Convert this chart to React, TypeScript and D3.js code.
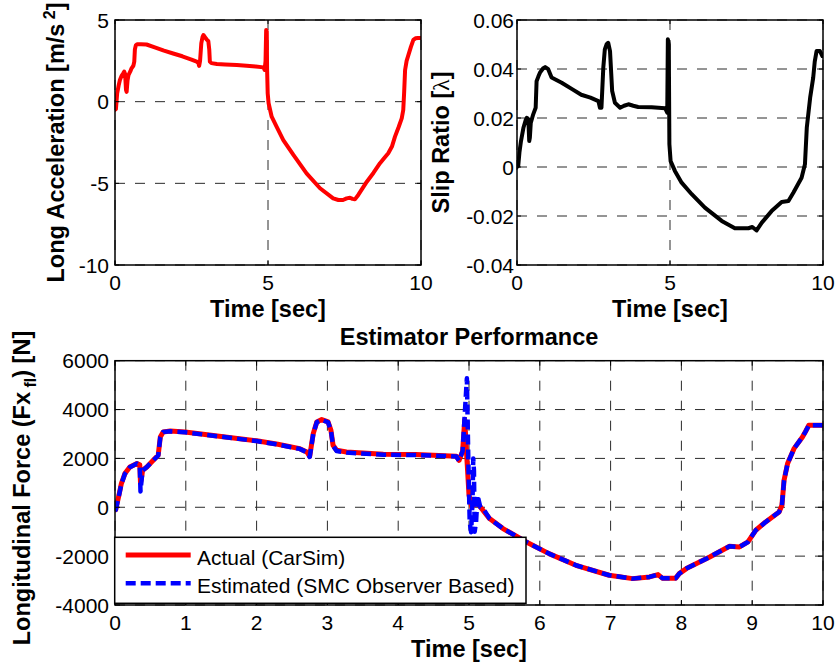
import React from 'react';
import * as d3 from 'd3';

// ---------- DATA ----------
const accelData: [number, number][] = [
  [0, -0.5], [0.03, -0.45], [0.07, 0.5], [0.12, 1.0], [0.16, 1.33], [0.22, 1.6], [0.27, 1.74],
  [0.3, 1.84], [0.33, 1.7], [0.36, 0.72], [0.38, 0.6], [0.41, 1.3], [0.44, 1.63], [0.5, 1.85],
  [0.54, 2.04], [0.6, 2.2], [0.63, 2.45], [0.65, 3.2], [0.68, 3.45], [0.72, 3.51], [0.85, 3.51],
  [1.03, 3.5], [1.3, 3.32], [1.6, 3.12], [1.9, 2.95], [2.2, 2.78], [2.5, 2.58], [2.67, 2.45],
  [2.72, 2.38], [2.75, 2.19], [2.78, 2.5], [2.82, 3.57], [2.86, 3.95], [2.89, 4.08], [2.94, 3.95],
  [2.99, 3.82], [3.05, 3.7], [3.08, 3.2], [3.1, 2.45], [3.15, 2.36], [3.33, 2.31], [3.6, 2.28],
  [3.98, 2.25], [4.3, 2.2], [4.6, 2.15], [4.85, 2.1], [4.89, 1.94], [4.92, 2.5], [4.94, 4.39],
  [4.96, 4.3], [4.97, 2.0], [4.99, 0.51], [5.02, -0.1], [5.12, -0.92], [5.28, -1.53], [5.5, -2.35],
  [5.83, -3.26], [6.26, -4.39], [6.7, -5.3], [7.13, -5.92], [7.3, -6.02], [7.45, -6.02], [7.57, -5.92],
  [7.68, -5.88], [7.76, -5.95], [7.84, -5.98], [7.95, -5.71], [8.23, -4.9], [8.45, -4.35], [8.66, -3.77],
  [8.8, -3.45], [8.93, -3.16], [9.05, -2.75], [9.15, -2.14], [9.27, -1.55], [9.37, -1.02], [9.42, -0.51],
  [9.45, 0.6], [9.48, 1.94], [9.53, 2.5], [9.59, 2.86], [9.67, 3.35], [9.75, 3.78], [9.82, 3.88],
  [9.9, 3.9], [10, 3.9],
];

const slipData: [number, number][] = [
  [0, 0], [0.04, 0.0004], [0.08, 0.006], [0.13, 0.0106], [0.21, 0.016], [0.28, 0.019], [0.32, 0.0201],
  [0.37, 0.0195], [0.4, 0.0106], [0.42, 0.012], [0.45, 0.018], [0.53, 0.0215], [0.61, 0.0242],
  [0.64, 0.035], [0.7, 0.037], [0.75, 0.0385], [0.85, 0.0402], [0.92, 0.0408], [1.02, 0.0399],
  [1.13, 0.0365], [1.46, 0.0344], [1.8, 0.0318], [2.1, 0.0295], [2.4, 0.0283], [2.66, 0.0269],
  [2.71, 0.0242], [2.76, 0.0242], [2.82, 0.0405], [2.87, 0.048], [2.93, 0.0501], [2.98, 0.0507],
  [3.04, 0.0473], [3.08, 0.038], [3.11, 0.031], [3.2, 0.0262], [3.37, 0.0242], [3.5, 0.025],
  [3.64, 0.0256], [3.8, 0.025], [3.96, 0.0245], [4.4, 0.0244], [4.84, 0.024], [4.91, 0.0222],
  [4.93, 0.0521], [4.96, 0.05], [4.98, 0.0093], [5.02, 0.0024], [5.16, -0.0016], [5.38, -0.0064],
  [5.71, -0.0111], [6.14, -0.0166], [6.69, -0.022], [7.12, -0.025], [7.56, -0.025], [7.69, -0.0245],
  [7.83, -0.0259], [8.0, -0.0227], [8.32, -0.018], [8.65, -0.0143], [8.87, -0.0139], [9.03, -0.0105],
  [9.3, -0.0044], [9.41, 0.0011], [9.47, 0.016], [9.58, 0.0283], [9.68, 0.0365], [9.73, 0.043],
  [9.79, 0.0473], [9.9, 0.0473], [9.98, 0.0453],
];

const forceActual: [number, number][] = [
  [0, -50], [0.01, -95], [0.05, 423], [0.09, 970], [0.14, 1380], [0.21, 1650], [0.31, 1790],
  [0.35, 1740], [0.36, 1000], [0.38, 1300], [0.39, 1515], [0.45, 1650], [0.54, 1924], [0.61, 2129],
  [0.64, 2877], [0.68, 3082], [0.78, 3123], [0.99, 3082], [1.5, 2900], [2.0, 2720], [2.3, 2580],
  [2.61, 2400], [2.71, 2264], [2.75, 2088], [2.8, 3015], [2.85, 3493], [2.92, 3590], [3.01, 3493],
  [3.05, 3152], [3.08, 2538], [3.13, 2333], [3.27, 2264], [3.79, 2170], [4.25, 2157], [4.82, 2088],
  [4.86, 1924], [4.91, 2300], [4.94, 3600], [4.96, 2500], [4.98, 1515], [5.0, 500], [5.04, 0],
  [5.1, 200], [5.15, 50], [5.29, -464], [5.48, -873], [5.81, -1419], [6.13, -1897], [6.51, -2374],
  [6.98, -2783], [7.31, -2920], [7.55, -2852], [7.67, -2756], [7.73, -2900], [7.92, -2900],
  [7.97, -2715], [8.07, -2510], [8.4, -2033], [8.68, -1596], [8.82, -1623], [8.94, -1419],
  [9.05, -941], [9.19, -600], [9.38, -191], [9.42, 82], [9.45, 1105], [9.5, 1790], [9.59, 2400],
  [9.71, 2877], [9.75, 3082], [9.8, 3357], [10, 3357],
];

const forceEstimated: [number, number][] = [
  [0, -120], [0.01, -110], [0.05, 400], [0.09, 950], [0.14, 1370], [0.21, 1640], [0.31, 1790],
  [0.35, 1720], [0.36, 650], [0.38, 1250], [0.39, 1500], [0.45, 1650], [0.54, 1920], [0.61, 2120],
  [0.64, 2870], [0.68, 3080], [0.78, 3110], [0.99, 3070], [1.5, 2890], [2.0, 2710], [2.3, 2570],
  [2.61, 2390], [2.71, 2250], [2.75, 2060], [2.8, 3000], [2.85, 3480], [2.92, 3580], [3.01, 3480],
  [3.05, 3140], [3.08, 2520], [3.13, 2300], [3.27, 2240], [3.79, 2150], [4.25, 2140], [4.82, 2080],
  [4.86, 1900], [4.91, 2300], [4.93, 3300], [4.97, 5280], [4.99, 2000], [5.01, -600], [5.03, -1023],
  [5.05, 300], [5.06, 2000], [5.07, 1500], [5.08, -1000], [5.1, -600], [5.12, 500], [5.16, 0],
  [5.2, -50], [5.29, -464], [5.48, -873], [5.81, -1419], [6.13, -1897], [6.51, -2374],
  [6.98, -2783], [7.31, -2920], [7.55, -2852], [7.67, -2756], [7.73, -2900], [7.92, -2900],
  [7.97, -2715], [8.07, -2510], [8.4, -2033], [8.68, -1596], [8.82, -1623], [8.94, -1419],
  [9.05, -941], [9.19, -600], [9.38, -191], [9.42, 82], [9.45, 1105], [9.5, 1790], [9.59, 2400],
  [9.71, 2877], [9.75, 3082], [9.8, 3357], [10, 3357],
];

const accelXTicks = [0, 5, 10];
const accelYTicks = [-10, -5, 0, 5];
const slipXTicks = [0, 5, 10];
const slipYTicks = [-0.04, -0.02, 0, 0.02, 0.04, 0.06];
const slipYLabels = ['-0.04', '-0.02', '0', '0.02', '0.04', '0.06'];
const forceXTicks = [0, 1, 2, 3, 4, 5, 6, 7, 8, 9, 10];
const forceYTicks = [-4000, -2000, 0, 2000, 4000, 6000];

const legendLabels = ['Actual (CarSim)', 'Estimated (SMC Observer Based)'];
const titleText = 'Estimator Performance';
const xLabelText = 'Time [sec]';

// ---------- LAYOUT ----------
const FONT = '"Liberation Sans", Arial, Helvetica, sans-serif';
const TICK_FS = 21;
const LABEL_FS = 23.5;

type Box = { l: number; r: number; t: number; b: number };

const boxA: Box = { l: 115, r: 421, t: 20, b: 265 };
const boxB: Box = { l: 517, r: 823, t: 20, b: 265 };
const boxC: Box = { l: 115, r: 823, t: 360.7, b: 605 };

function Frame(props: {
  box: Box;
  x: d3.ScaleLinear<number, number>;
  y: d3.ScaleLinear<number, number>;
  xTicks: number[];
  yTicks: number[];
  yLabels?: string[];
  tickLen: number;
  yGap: number;
  layer: 'grid' | 'box';
}) {
  const { box, x, y, xTicks, yTicks, yLabels, tickLen, yGap, layer } = props;
  if (layer === 'grid') {
    return (
      <g>
        {xTicks.map((t) => (
          <line key={'gx' + t} x1={x(t)} x2={x(t)} y1={box.t} y2={box.b}
            stroke="#2a2a2a" strokeWidth={1} strokeDasharray="10,10" />
        ))}
        {yTicks.map((t) => (
          <line key={'gy' + t} x1={box.l} x2={box.r} y1={y(t)} y2={y(t)}
            stroke="#2a2a2a" strokeWidth={1} strokeDasharray="10,10" />
        ))}
      </g>
    );
  }
  return (
    <g>
      {xTicks.map((t) => (
        <g key={'tx' + t}>
          <line x1={x(t)} x2={x(t)} y1={box.b} y2={box.b - tickLen} stroke="#000" strokeWidth={1} />
          <line x1={x(t)} x2={x(t)} y1={box.t} y2={box.t + tickLen} stroke="#000" strokeWidth={1} />
          <text x={x(t)} y={box.b + 25} textAnchor="middle" fontFamily={FONT} fontSize={TICK_FS} fill="#000">
            {String(t)}
          </text>
        </g>
      ))}
      {yTicks.map((t, i) => (
        <g key={'ty' + t}>
          <line x1={box.l} x2={box.l + tickLen} y1={y(t)} y2={y(t)} stroke="#000" strokeWidth={1} />
          <line x1={box.r} x2={box.r - tickLen} y1={y(t)} y2={y(t)} stroke="#000" strokeWidth={1} />
          <text x={box.l - yGap} y={y(t) + 7.5} textAnchor="end" fontFamily={FONT} fontSize={TICK_FS} fill="#000">
            {yLabels ? yLabels[i] : String(t)}
          </text>
        </g>
      ))}
      <rect x={box.l} y={box.t} width={box.r - box.l} height={box.b - box.t}
        fill="none" stroke="#000" strokeWidth={1.5} />
    </g>
  );
}

export default function App() {
  const xA = d3.scaleLinear().domain([0, 10]).range([boxA.l, boxA.r]);
  const yA = d3.scaleLinear().domain([-10, 5]).range([boxA.b, boxA.t]);
  const xB = d3.scaleLinear().domain([0, 10]).range([boxB.l, boxB.r]);
  const yB = d3.scaleLinear().domain([-0.04, 0.06]).range([boxB.b, boxB.t]);
  const xC = d3.scaleLinear().domain([0, 10]).range([boxC.l, boxC.r]);
  const yC = d3.scaleLinear().domain([-4000, 6000]).range([boxC.b, boxC.t]);

  const lineA = d3.line<[number, number]>().x((d) => xA(d[0])).y((d) => yA(d[1]));
  const lineB = d3.line<[number, number]>().x((d) => xB(d[0])).y((d) => yB(d[1]));
  const lineC = d3.line<[number, number]>().x((d) => xC(d[0])).y((d) => yC(d[1]));

  const legX = 114.7, legY = 537.3, legW = 411.3, legH = 66;

  return (
    <svg width={836} height={666} viewBox="0 0 836 666"
      style={{ position: 'absolute', left: 0, top: 0, background: '#fff' }}>
      <rect x={0} y={0} width={836} height={666} fill="#fff" />
      <defs>
        <clipPath id="clipA"><rect x={boxA.l} y={boxA.t} width={boxA.r - boxA.l} height={boxA.b - boxA.t} /></clipPath>
        <clipPath id="clipB"><rect x={boxB.l} y={boxB.t} width={boxB.r - boxB.l} height={boxB.b - boxB.t} /></clipPath>
        <clipPath id="clipC"><rect x={boxC.l} y={boxC.t} width={boxC.r - boxC.l} height={boxC.b - boxC.t} /></clipPath>
      </defs>

      {/* Panel A: Long acceleration */}
      <Frame box={boxA} x={xA} y={yA} xTicks={accelXTicks} yTicks={accelYTicks} tickLen={4} yGap={6} layer="grid" />
      <path d={lineA(accelData) || ''} fill="none" stroke="#ff0000" strokeWidth={4}
        strokeLinejoin="round" strokeLinecap="round" clipPath="url(#clipA)" />
      <Frame box={boxA} x={xA} y={yA} xTicks={accelXTicks} yTicks={accelYTicks} tickLen={4} yGap={6} layer="box" />
      <text transform={`translate(63.8, ${(boxA.t + boxA.b) / 2}) rotate(-90)`} textAnchor="middle"
        fontFamily={FONT} fontSize={LABEL_FS} fontWeight="bold" fill="#000">
        <tspan>Long Acceleration [m/s</tspan>
        <tspan dy={-9} fontSize={16}> 2</tspan>
        <tspan dy={9}>]</tspan>
      </text>
      <text x={(boxA.l + boxA.r) / 2} y={316.5} textAnchor="middle" fontFamily={FONT}
        fontSize={LABEL_FS} fontWeight="bold" fill="#000">{xLabelText}</text>

      {/* Panel B: Slip ratio */}
      <Frame box={boxB} x={xB} y={yB} xTicks={slipXTicks} yTicks={slipYTicks} yLabels={slipYLabels} tickLen={4} yGap={3} layer="grid" />
      <path d={lineB(slipData) || ''} fill="none" stroke="#000" strokeWidth={4}
        strokeLinejoin="round" strokeLinecap="round" clipPath="url(#clipB)" />
      <Frame box={boxB} x={xB} y={yB} xTicks={slipXTicks} yTicks={slipYTicks} yLabels={slipYLabels} tickLen={4} yGap={3} layer="box" />
      <text transform={`translate(448.5, ${(boxB.t + boxB.b) / 2}) rotate(-90)`} textAnchor="middle"
        fontFamily={FONT} fontSize={LABEL_FS} fontWeight="bold" fill="#000">
        <tspan>Slip Ratio [</tspan>
        <tspan fontWeight="normal" fontFamily='"Liberation Serif", "DejaVu Serif", serif'>λ</tspan>
        <tspan>]</tspan>
      </text>
      <text x={(boxB.l + boxB.r) / 2} y={316.5} textAnchor="middle" fontFamily={FONT}
        fontSize={LABEL_FS} fontWeight="bold" fill="#000">{xLabelText}</text>

      {/* Panel C: Longitudinal force */}
      <text x={(boxC.l + boxC.r) / 2} y={345} textAnchor="middle" fontFamily={FONT}
        fontSize={LABEL_FS} fontWeight="bold" fill="#000">{titleText}</text>
      <Frame box={boxC} x={xC} y={yC} xTicks={forceXTicks} yTicks={forceYTicks} tickLen={5} yGap={6} layer="grid" />
      <g clipPath="url(#clipC)">
        <path d={lineC(forceActual) || ''} fill="none" stroke="#ff0000" strokeWidth={5}
          strokeLinejoin="round" />
        <path d={lineC(forceEstimated) || ''} fill="none" stroke="#0000ff" strokeWidth={4.5}
          strokeDasharray="10,5" strokeLinejoin="round" />
      </g>
      <Frame box={boxC} x={xC} y={yC} xTicks={forceXTicks} yTicks={forceYTicks} tickLen={5} yGap={6} layer="box" />
      <text transform={`translate(30, 488) rotate(-90)`} textAnchor="middle"
        fontFamily={FONT} fontSize={LABEL_FS} fontWeight="bold" fill="#000">
        <tspan>Longitudinal Force (Fx</tspan>
        <tspan dy={6} fontSize={16}> fl</tspan>
        <tspan dy={-6}>) [N]</tspan>
      </text>
      <text x={(boxC.l + boxC.r) / 2} y={657} textAnchor="middle" fontFamily={FONT}
        fontSize={LABEL_FS} fontWeight="bold" fill="#000">{xLabelText}</text>

      {/* Legend */}
      <rect x={legX} y={legY} width={legW} height={legH} fill="#fff" stroke="#000" strokeWidth={1.5} />
      <line x1={125.7} x2={190.7} y1={555} y2={555} stroke="#ff0000" strokeWidth={5} />
      <text x={197} y={565} fontFamily={FONT} fontSize={21} fill="#000">{legendLabels[0]}</text>
      <line x1={125.7} x2={190.7} y1={583.3} y2={583.3} stroke="#0000ff" strokeWidth={4.5} strokeDasharray="10,5" />
      <text x={197} y={593} fontFamily={FONT} fontSize={21} fill="#000">{legendLabels[1]}</text>
    </svg>
  );
}
